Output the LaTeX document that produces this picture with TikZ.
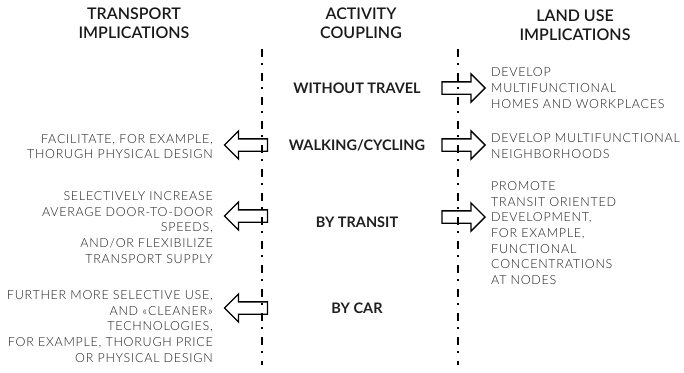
\documentclass[tikz,border=0pt]{standalone}
\usepackage{fontspec}
\setmainfont{Lato}
\newfontfamily\lightfont[LetterSpace=6]{Lato Light}
\newfontfamily\semifont{Lato Semibold}
\usetikzlibrary{shapes.arrows}
\definecolor{inkgray}{HTML}{1E1E1E}
\tikzset{
	colhead/.style={font=\semifont\fontsize{16}{19.5}\selectfont, align=center, text=black!90, inner sep=0pt},
	mode/.style={font=\bfseries\fontsize{14.5}{15}\selectfont, text=black!88, inner sep=0pt},
	note/.style={font=\lightfont\fontsize{12.5}{15.6}\selectfont, text=inkgray, inner sep=0pt},
	fatarrow/.style={single arrow, draw, line width=1.3pt, minimum height=43pt, minimum width=27pt,
		single arrow head extend=8pt, inner xsep=0pt, inner ysep=5.5pt},
	divider/.style={line width=1.7pt, dash pattern=on 8pt off 6pt on 2pt off 8pt}
}
\begin{document}
\begin{tikzpicture}[x=1pt, y=-1pt]
	\useasboundingbox (0,0) rectangle (684,372);
	% column heads
	\node[colhead] (transport) at (134,23) {TRANSPORT\\IMPLICATIONS};
	\node[colhead] (coupling) at (361,23) {ACTIVITY\\COUPLING};
	\node[colhead] (landuse) at (575,25) {LAND USE\\IMPLICATIONS};
	% the two dash-dot dividers
	\coordinate (ltop) at (262,49);
	\coordinate (lbot) at (262,365);
	\coordinate (rtop) at (458,49);
	\coordinate (rbot) at (458,365);
	\draw[divider] (ltop) -- (lbot);
	\draw[divider] (rtop) -- (rbot);
	% coupling modes
	\node[mode] (notravel) at (357,88) {WITHOUT TRAVEL};
	\node[mode] (walk) at (357,145) {WALKING/CYCLING};
	\node[mode] (transit) at (357,222) {BY TRANSIT};
	\node[mode] (car) at (357,308) {BY CAR};
	% arrows to the land use side
	\node[fatarrow] (rnotravel) at (460.5,88) {};
	\node[fatarrow] (rwalk) at (460.5,145) {};
	\node[fatarrow] (rtransit) at (460.5,217) {};
	% arrows to the transport side
	\node[fatarrow, shape border rotate=180] (lwalk) at (249,145) {};
	\node[fatarrow, shape border rotate=180] (ltransit) at (249,216) {};
	\node[fatarrow, shape border rotate=180] (lcar) at (249,308) {};
	% land use implications
	\node[note, anchor=west, align=left] (lunotravel) at (491,88) {DEVELOP\\MULTIFUNCTIONAL\\HOMES AND WORKPLACES};
	\node[note, anchor=west, align=left] (luwalk) at (491,146) {DEVELOP MULTIFUNCTIONAL\\NEIGHBORHOODS};
	\node[note, anchor=west, align=left] (lutransit) at (491,233) {PROMOTE\\TRANSIT ORIENTED\\DEVELOPMENT,\\FOR EXAMPLE,\\FUNCTIONAL\\CONCENTRATIONS\\AT NODES};
	% transport implications
	\node[note, anchor=east, align=right] (trwalk) at (213,146.5) {FACILITATE, FOR EXAMPLE,\\THORUGH PHYSICAL DESIGN};
	\node[note, anchor=east, align=right] (trtransit) at (213,227.5) {SELECTIVELY INCREASE\\AVERAGE DOOR-TO-DOOR\\SPEEDS,\\AND/OR FLEXIBILIZE\\TRANSPORT SUPPLY};
	\node[note, anchor=east, align=right] (trcar) at (213,326.5) {FURTHER MORE SELECTIVE USE,\\AND «CLEANER»\\TECHNOLOGIES,\\FOR EXAMPLE, THORUGH PRICE\\OR PHYSICAL DESIGN};
\end{tikzpicture}
\end{document}
